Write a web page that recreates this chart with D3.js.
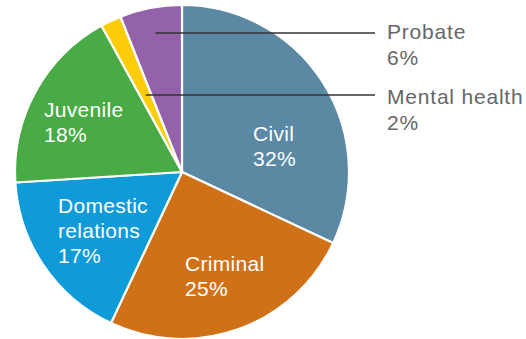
<!DOCTYPE html>
<html>
<head>
<meta charset="utf-8">
<script src="https://cdn.jsdelivr.net/npm/d3@7"></script>
<style>
  html, body { margin: 0; padding: 0; background: #fff; }
  svg { display: block; font-family: "Liberation Sans", Arial, Helvetica, sans-serif; }
</style>
</head>
<body>
<svg id="chart" width="526" height="339"></svg>
<script>
// Case types and their share of the caseload (%)
const categories = ["Civil", "Criminal", "Domestic relations", "Juvenile", "Mental health", "Probate"];
const shares = [32, 25, 17, 18, 2, 6];
const colors = ["#5b89a3", "#d07118", "#0e9bd8", "#48ab46", "#fdcd0c", "#9462ab"];

const width = 526, height = 339;
const cx = 182, cy = 172, radius = 167;

const svg = d3.select("#chart");
const g = svg.append("g").attr("transform", `translate(${cx},${cy})`);

const pie = d3.pie().sort(null).value(d => d.value);
const arc = d3.arc().innerRadius(0).outerRadius(radius);

const data = categories.map((c, i) => ({ name: c, value: shares[i], color: colors[i] }));
const arcs = pie(data);

g.selectAll("path.slice")
  .data(arcs)
  .join("path")
  .attr("class", "slice")
  .attr("d", arc)
  .attr("fill", d => d.data.color)
  .attr("stroke", "#fff")
  .attr("stroke-width", 2.2)
  .attr("stroke-linejoin", "round");

// Labels drawn inside the larger slices (left-anchored, relative to pie centre)
const insideLayout = {
  "Civil":              { x: 71,   y: -31, lines: ["Civil"] },
  "Criminal":           { x: 3,    y: 99,  lines: ["Criminal"] },
  "Domestic relations": { x: -124, y: 41,  lines: ["Domestic", "relations"] },
  "Juvenile":           { x: -138, y: -55, lines: ["Juvenile"] }
};
const lineH = 25;

arcs.forEach(a => {
  const lay = insideLayout[a.data.name];
  if (!lay) return;
  const t = g.append("text")
    .attr("fill", "#fff")
    .attr("font-size", 21)
    .attr("letter-spacing", 0.3)
    .attr("x", lay.x)
    .attr("y", lay.y);
  const rows = lay.lines.concat([a.data.value + "%"]);
  rows.forEach((r, i) => {
    t.append("tspan")
      .attr("x", lay.x)
      .attr("dy", i === 0 ? 0 : lineH)
      .text(r);
  });
});

// Callout labels for the small slices, with leader lines out to the right
const callouts = [
  { name: "Probate", lineY: 33, textY: 39 },
  { name: "Mental health", lineY: 95, textY: 104 }
];
const lineEndX = 375, textX = 387;

callouts.forEach(c => {
  const a = arcs.find(d => d.data.name === c.name);
  const mid = (a.startAngle + a.endAngle) / 2;
  // point on the slice's mid-angle at the leader line's height
  const dy = cy - c.lineY;
  const r = dy / Math.cos(mid);
  const sx = cx + r * Math.sin(mid);
  svg.append("line")
    .attr("x1", sx).attr("y1", c.lineY)
    .attr("x2", lineEndX).attr("y2", c.lineY)
    .attr("stroke", "#333")
    .attr("stroke-width", 1.3);
  const t = svg.append("text")
    .attr("fill", "#666")
    .attr("font-size", 21)
    .attr("letter-spacing", 0.8)
    .attr("x", textX)
    .attr("y", c.textY);
  t.append("tspan").attr("x", textX).attr("dy", 0).text(a.data.name);
  t.append("tspan").attr("x", textX).attr("dy", 26).text(a.data.value + "%");
});
</script>
</body>
</html>
